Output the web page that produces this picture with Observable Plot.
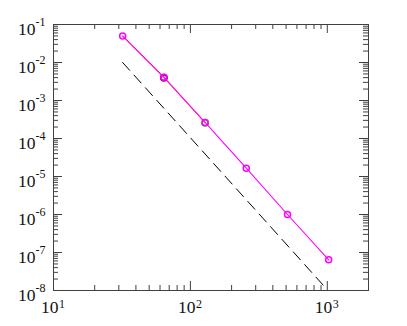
<!DOCTYPE html>
<html>
<head>
<meta charset="utf-8">
<script src="https://cdn.jsdelivr.net/npm/d3@7"></script>
<script src="https://cdn.jsdelivr.net/npm/@observablehq/plot@0.6"></script>
<style>
  html, body { margin: 0; padding: 0; background: #fff; }
</style>
</head>
<body>
<div id="chart"></div>
<script>
// Data
const nValues = [32, 64, 128, 256, 512, 1024];
const errMagenta = [0.05, 0.0041, 2.65e-4, 1.65e-5, 1.0e-6, 6.4e-8];
const redN = [32, 64, 128];
const errRed = [0.05, 0.0041, 2.65e-4];
const redDotN = [64];
const errRedDot = [0.0039];
const blueN = [64];
const errBlue = [0.0040];
const greenN = [128];
const errGreen = [2.58e-4];
const refN = [32, 1000];
const refErr = [1e-2, 1.05e-8];

const xTicks = [10, 100, 1000];
const xExp = ["1", "2", "3"];
const yTicks = [1e-1, 1e-2, 1e-3, 1e-4, 1e-5, 1e-6, 1e-7, 1e-8];
const yExp = ["-1", "-2", "-3", "-4", "-5", "-6", "-7", "-8"];
const xMinor = [20,30,40,50,60,70,80,90,200,300,400,500,600,700,800,900];
const yMinorMult = [2,3,4,5,6,7,8,9];
const yDecades = [1e-8, 1e-7, 1e-6, 1e-5, 1e-4, 1e-3, 1e-2];

const yMinor = yDecades.flatMap(d => yMinorMult.map(m => m * d));

const toRows = (xs, ys) => xs.map((x, i) => ({x, y: ys[i]}));
const magenta = toRows(nValues, errMagenta);
const red = toRows(redN, errRed);
const redDot = toRows(redDotN, errRedDot);
const blue = toRows(blueN, errBlue);
const green = toRows(greenN, errGreen);
const ref = toRows(refN, refErr);

const W = 407, H = 326, mL = 53, mR = 39, mT = 24, mB = 36;
const pw = W - mL - mR, ph = H - mT - mB;
const axisColor = "#404040";
const majLen = 9, minLen = 5;

const chart = Plot.plot({
  width: W, height: H,
  marginLeft: mL, marginRight: mR, marginTop: mT, marginBottom: mB,
  style: {background: "#fff", fontFamily: "'Liberation Serif', 'DejaVu Serif', serif"},
  x: {type: "log", domain: [10, 2000], axis: null},
  y: {type: "log", domain: [1e-8, 1e-1], axis: null},
  marks: [
    Plot.tickY(yTicks, {y: d => d, insetRight: pw - majLen, stroke: axisColor}),
    Plot.tickY(yTicks, {y: d => d, insetLeft: pw - majLen, stroke: axisColor}),
    Plot.tickY(yMinor, {y: d => d, insetRight: pw - minLen, stroke: axisColor}),
    Plot.tickY(yMinor, {y: d => d, insetLeft: pw - minLen, stroke: axisColor}),
    Plot.tickX(xTicks, {x: d => d, insetTop: ph - majLen, stroke: axisColor}),
    Plot.tickX(xTicks, {x: d => d, insetBottom: ph - majLen, stroke: axisColor}),
    Plot.tickX(xMinor, {x: d => d, insetTop: ph - minLen, stroke: axisColor}),
    Plot.tickX(xMinor, {x: d => d, insetBottom: ph - minLen, stroke: axisColor}),
    Plot.frame({stroke: axisColor, strokeWidth: 1}),
    Plot.line(ref, {x: "x", y: "y", stroke: "#000", strokeWidth: 1, strokeDasharray: "10.5,6.5", clip: true}),
    Plot.line(red, {x: "x", y: "y", stroke: "#ff6000", strokeWidth: 1, dy: 0.4}),
    Plot.dot(redDot, {x: "x", y: "y", r: 3, stroke: "#ff0000", strokeWidth: 1.5}),
    Plot.dot(blue, {x: "x", y: "y", r: 3, stroke: "#0000ff", strokeWidth: 1.5}),
    Plot.dot(green, {x: "x", y: "y", r: 3.2, stroke: "#00d000", strokeWidth: 1.5}),
    Plot.line(magenta, {x: "x", y: "y", stroke: "#ff00ff", strokeWidth: 1.1}),
    Plot.dot(magenta, {x: "x", y: "y", r: 3, stroke: "#ff00ff", strokeWidth: 1.5}),
    Plot.text(yTicks, {y: d => d, frameAnchor: "left", text: () => "10", textAnchor: "end", dx: -18, dy: 5.2, fontSize: 17.5, fill: "#111"}),
    Plot.text(yTicks, {y: d => d, frameAnchor: "left", text: (d, i) => yExp[i], textAnchor: "start", dx: -18, dy: -2.8, fontSize: 12, fill: "#111"}),
    Plot.text(xTicks, {x: d => d, frameAnchor: "bottom", text: () => "10", textAnchor: "end", dx: 5, dy: 22.5, fontSize: 17.5, fill: "#111"}),
    Plot.text(xTicks, {x: d => d, frameAnchor: "bottom", text: (d, i) => xExp[i], textAnchor: "start", dx: 5.5, dy: 17.5, fontSize: 12, fill: "#111"})
  ]
});
document.getElementById("chart").appendChild(chart);
</script>
</body>
</html>
